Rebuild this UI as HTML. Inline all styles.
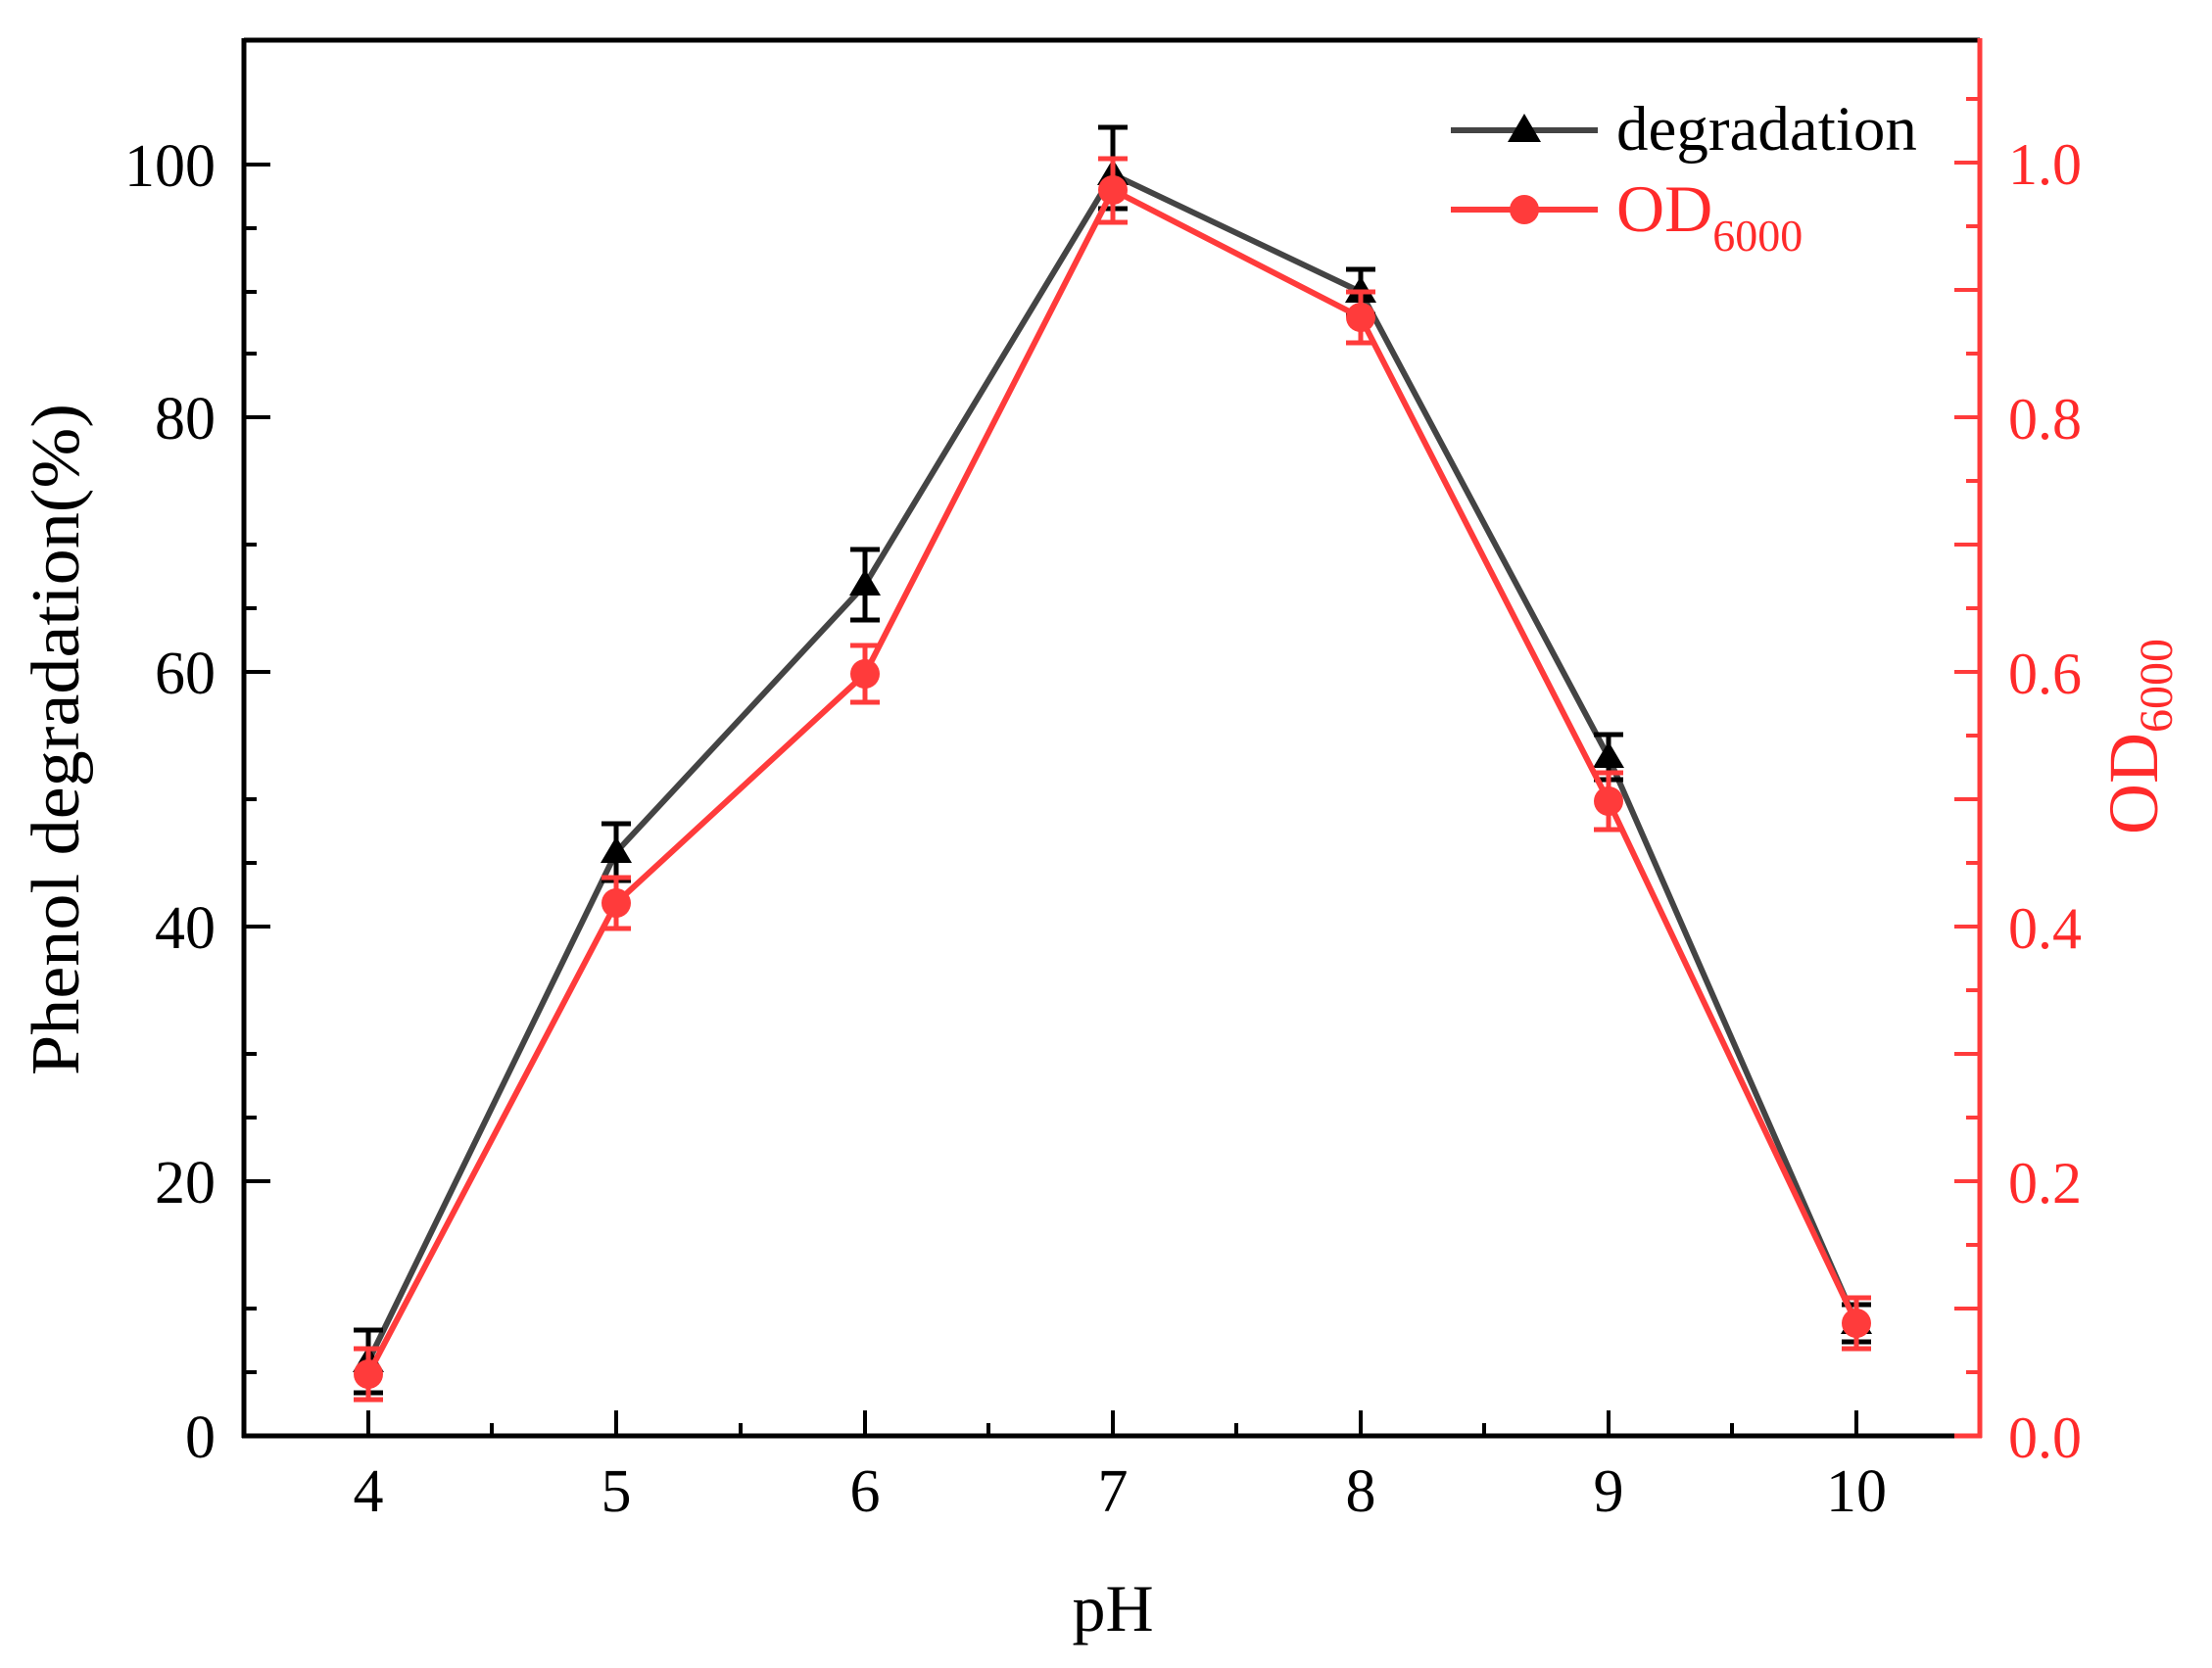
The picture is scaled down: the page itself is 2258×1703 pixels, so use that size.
<!DOCTYPE html>
<html><head><meta charset="utf-8"><style>html,body{margin:0;padding:0;background:#fff}svg{display:block}</style></head>
<body>
<svg width="2258" height="1703" viewBox="0 0 2258 1703" xmlns="http://www.w3.org/2000/svg" font-family="Liberation Serif, serif">
<g stroke="#000" stroke-width="5" fill="none">
<line x1="249" y1="41" x2="2021" y2="41"/>
<line x1="249" y1="39" x2="249" y2="1468"/>
<line x1="247" y1="1466" x2="2000" y2="1466"/>
</g>
<g stroke="#ff3b3b" stroke-width="5" fill="none">
<line x1="2021" y1="39" x2="2021" y2="1468"/>
<line x1="1995" y1="1466" x2="2023" y2="1466"/>
</g>
<g stroke="#000" stroke-width="4">
<line x1="249" y1="1466" x2="276" y2="1466"/><line x1="249" y1="1401" x2="262" y2="1401"/>
<line x1="249" y1="1206" x2="276" y2="1206"/><line x1="249" y1="1141" x2="262" y2="1141"/>
<line x1="249" y1="946" x2="276" y2="946"/><line x1="249" y1="881" x2="262" y2="881"/>
<line x1="249" y1="686" x2="276" y2="686"/><line x1="249" y1="621" x2="262" y2="621"/>
<line x1="249" y1="426" x2="276" y2="426"/><line x1="249" y1="361" x2="262" y2="361"/>
<line x1="249" y1="168" x2="276" y2="168"/><line x1="249" y1="298" x2="262" y2="298"/>
<line x1="249" y1="1336" x2="262" y2="1336"/><line x1="249" y1="1076" x2="262" y2="1076"/>
<line x1="249" y1="816" x2="262" y2="816"/><line x1="249" y1="556" x2="262" y2="556"/>
<line x1="249" y1="233" x2="262" y2="233"/>
</g>
<g stroke="#000" stroke-width="4">
<line x1="376" y1="1466" x2="376" y2="1440"/><line x1="629" y1="1466" x2="629" y2="1440"/>
<line x1="883" y1="1466" x2="883" y2="1440"/><line x1="1136" y1="1466" x2="1136" y2="1440"/>
<line x1="1389" y1="1466" x2="1389" y2="1440"/><line x1="1642" y1="1466" x2="1642" y2="1440"/>
<line x1="1895" y1="1466" x2="1895" y2="1440"/>
<line x1="502" y1="1466" x2="502" y2="1453"/><line x1="756" y1="1466" x2="756" y2="1453"/>
<line x1="1009" y1="1466" x2="1009" y2="1453"/><line x1="1262" y1="1466" x2="1262" y2="1453"/>
<line x1="1515" y1="1466" x2="1515" y2="1453"/><line x1="1768" y1="1466" x2="1768" y2="1453"/>
</g>
<g stroke="#ff3b3b" stroke-width="4">
<line x1="2021" y1="1466" x2="1995" y2="1466"/><line x1="2021" y1="1336" x2="1995" y2="1336"/>
<line x1="2021" y1="1206" x2="1995" y2="1206"/><line x1="2021" y1="1076" x2="1995" y2="1076"/>
<line x1="2021" y1="946" x2="1995" y2="946"/><line x1="2021" y1="816" x2="1995" y2="816"/>
<line x1="2021" y1="686" x2="1995" y2="686"/><line x1="2021" y1="556" x2="1995" y2="556"/>
<line x1="2021" y1="426" x2="1995" y2="426"/><line x1="2021" y1="296" x2="1995" y2="296"/>
<line x1="2021" y1="166" x2="1995" y2="166"/>
<line x1="2021" y1="1401" x2="2007" y2="1401"/><line x1="2021" y1="1271" x2="2007" y2="1271"/>
<line x1="2021" y1="1141" x2="2007" y2="1141"/><line x1="2021" y1="1011" x2="2007" y2="1011"/>
<line x1="2021" y1="881" x2="2007" y2="881"/><line x1="2021" y1="751" x2="2007" y2="751"/>
<line x1="2021" y1="621" x2="2007" y2="621"/><line x1="2021" y1="491" x2="2007" y2="491"/>
<line x1="2021" y1="361" x2="2007" y2="361"/><line x1="2021" y1="231" x2="2007" y2="231"/>
<line x1="2021" y1="101" x2="2007" y2="101"/>
</g>
<g font-size="62" text-anchor="end" fill="#000">
<text x="220" y="1488">0</text><text x="220" y="1228">20</text><text x="220" y="968">40</text>
<text x="220" y="708">60</text><text x="220" y="448">80</text><text x="220" y="190">100</text>
</g>
<g font-size="62" text-anchor="middle" fill="#000">
<text x="376" y="1543">4</text><text x="629" y="1543">5</text><text x="883" y="1543">6</text>
<text x="1136" y="1543">7</text><text x="1389" y="1543">8</text><text x="1642" y="1543">9</text>
<text x="1895" y="1543">10</text>
</g>
<g font-size="60" fill="#ff2a2a">
<text x="2050" y="1488">0.0</text><text x="2050" y="1228">0.2</text><text x="2050" y="968">0.4</text>
<text x="2050" y="708">0.6</text><text x="2050" y="448">0.8</text><text x="2050" y="188">1.0</text>
</g>
<text x="1136" y="1665" font-size="68" text-anchor="middle">pH</text>
<text transform="translate(80,1098) rotate(-90)" font-size="70" textLength="686" lengthAdjust="spacingAndGlyphs">Phenol degradation(%)</text>
<text transform="translate(2202,852) rotate(-90)" font-size="72" fill="#ff2a2a">OD<tspan font-size="48" dy="15">6000</tspan></text>
<!-- degradation series -->
<polyline points="376,1390 629,870 883,597 1136,178 1389,298 1642,773 1895,1351" fill="none" stroke="#444" stroke-width="6"/>
<g stroke="#000" stroke-width="5" fill="none">
<path d="M376,1358V1422M361,1358H391M361,1422H391"/>
<path d="M629,841V899M614,841H644M614,899H644"/>
<path d="M883,561V633M868,561H898M868,633H898"/>
<path d="M1136,130V213M1121,130H1151M1121,213H1151"/>
<path d="M1389,275V321M1374,275H1404M1374,321H1404"/>
<path d="M1642,750V796M1627,750H1657M1627,796H1657"/>
<path d="M1895,1332V1370M1880,1332H1910M1880,1370H1910"/>
</g>
<g fill="#000">
<path d="M376,1374l16,27h-32z"/><path d="M629,854l16,27h-32z"/><path d="M883,581l16,27h-32z"/>
<path d="M1136,162l16,27h-32z"/><path d="M1389,282l16,27h-32z"/><path d="M1642,757l16,27h-32z"/>
<path d="M1895,1335l16,27h-32z"/>
</g>
<!-- OD series -->
<polyline points="376,1403 629,922 883,688 1136,194 1389,324 1642,818 1895,1351" fill="none" stroke="#ff3b3b" stroke-width="6"/>
<g stroke="#ff3b3b" stroke-width="5" fill="none">
<path d="M376,1377V1429M361,1377H391M361,1429H391"/>
<path d="M629,896V948M614,896H644M614,948H644"/>
<path d="M883,659V717M868,659H898M868,717H898"/>
<path d="M1136,162V227M1121,162H1151M1121,227H1151"/>
<path d="M1389,298V350M1374,298H1404M1374,350H1404"/>
<path d="M1642,789V847M1627,789H1657M1627,847H1657"/>
<path d="M1895,1325V1377M1880,1325H1910M1880,1377H1910"/>
</g>
<g fill="#ff3b3b">
<circle cx="376" cy="1403" r="15"/><circle cx="629" cy="922" r="15"/><circle cx="883" cy="688" r="15"/>
<circle cx="1136" cy="194" r="15"/><circle cx="1389" cy="324" r="15"/><circle cx="1642" cy="818" r="15"/>
<circle cx="1895" cy="1351" r="15"/>
</g>
<!-- legend -->
<line x1="1481" y1="133" x2="1631" y2="133" stroke="#444" stroke-width="6"/>
<path d="M1556,116l17,29h-34z" fill="#000"/>
<text x="1650" y="153" font-size="65">degradation</text>
<line x1="1481" y1="214" x2="1631" y2="214" stroke="#ff3b3b" stroke-width="6"/>
<circle cx="1556" cy="214" r="15" fill="#ff3b3b"/>
<text x="1650" y="236" font-size="68" fill="#ff2a2a">OD<tspan font-size="46" dy="20">6000</tspan></text>
</svg>
</body></html>
